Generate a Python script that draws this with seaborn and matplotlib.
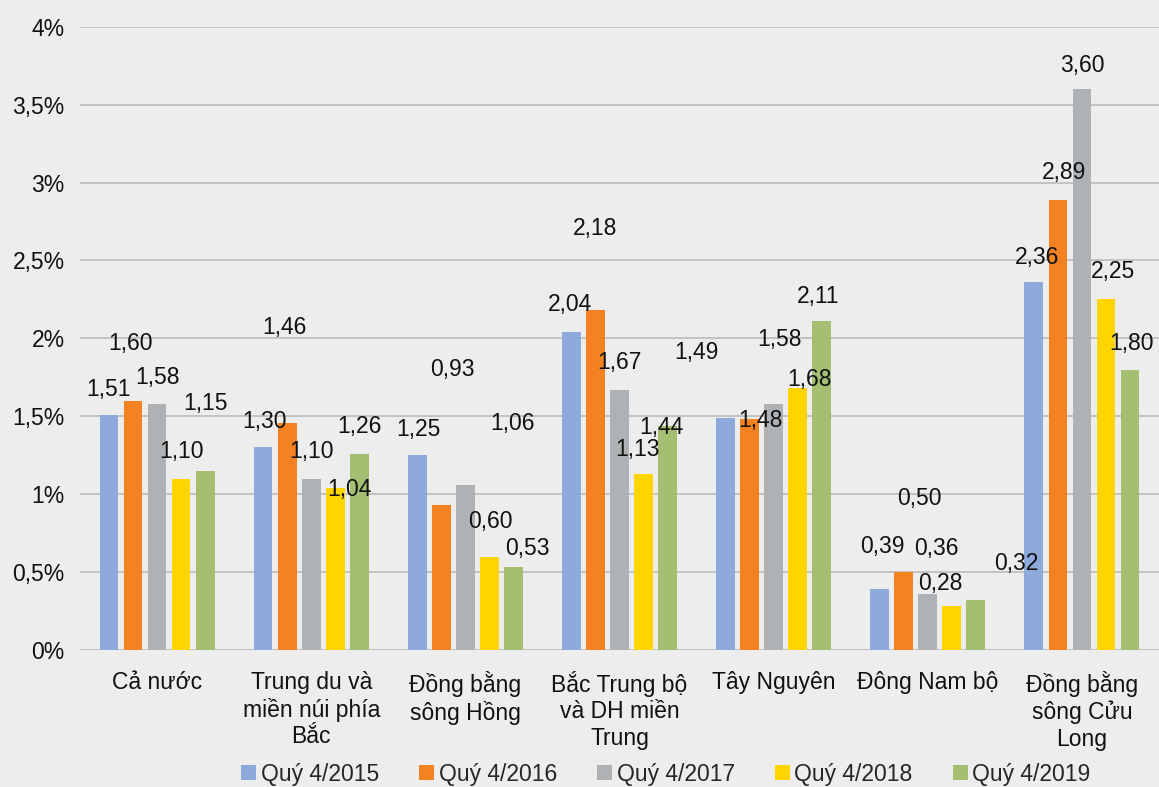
import pandas as pd
import matplotlib.pyplot as plt
import seaborn as sns

regions = [
    "Cả nước",
    "Trung du và\nmiền núi phía\nBắc",
    "Đồng bằng\nsông Hồng",
    "Bắc Trung bộ\nvà DH miền\nTrung",
    "Tây Nguyên",
    "Đông Nam bộ",
    "Đồng bằng\nsông Cửu\nLong",
]
series = ["Quý 4/2015", "Quý 4/2016", "Quý 4/2017", "Quý 4/2018", "Quý 4/2019"]
q4_2015 = [1.51, 1.30, 1.25, 2.04, 1.49, 0.39, 2.36]
q4_2016 = [1.60, 1.46, 0.93, 2.18, 1.48, 0.50, 2.89]
q4_2017 = [1.58, 1.10, 1.06, 1.67, 1.58, 0.36, 3.60]
q4_2018 = [1.10, 1.04, 0.60, 1.13, 1.68, 0.28, 2.25]
q4_2019 = [1.15, 1.26, 0.53, 1.44, 2.11, 0.32, 1.80]
yticks = [0, 0.5, 1, 1.5, 2, 2.5, 3, 3.5, 4]
ytick_labels = ["0%", "0,5%", "1%", "1,5%", "2%", "2,5%", "3%", "3,5%", "4%"]

colors = ["#8EAADB", "#F58220", "#AFB2B5", "#FFD500", "#A4BF72"]
# label nudges (pixels) per series, per region, as placed in the source chart
nudge = [
    [(0, 25), (1, 26), (1, 26), (-1, 28), (-29, 65), (3, 43), (3, 25)],
    [(-2, 57), (-3, 95), (11, 136), (0, 82), (11, -1), (16, 74), (6, 27)],
    [(0, 26), (0, 27), (47, 61), (0, 27), (6, 64), (9, 45), (0, 24)],
    [(0, 27), (14, -1), (1, 35), (-6, 24), (12, 9), (-12, 23), (7, 28)],
    [(0, 67), (0, 27), (14, 19), (-6, -2), (-4, 25), (40, 37), (1, 26)],
]

values = [q4_2015, q4_2016, q4_2017, q4_2018, q4_2019]
df = pd.DataFrame({
    "region": regions * len(series),
    "period": [s for s in series for _ in regions],
    "value": [v for vals in values for v in vals],
})

sns.set_theme(style="white")
plt.rcParams["font.family"] = ["Liberation Sans", "DejaVu Sans"]
bg = "#EDEDED"
fs = 16.5

fig = plt.figure(figsize=(11.59, 7.87), dpi=100, facecolor=bg)
ax = fig.add_axes([0.069, 0.174, 0.931, 0.792])
ax.set_facecolor(bg)

sns.barplot(data=df, x="region", y="value", hue="period", palette=colors,
            width=0.78, gap=0.22, saturation=1, errorbar=None, ax=ax,
            linewidth=0, zorder=3)

for j, cont in enumerate(ax.containers):
    for i, bar in enumerate(cont):
        dx, dy = nudge[j][i]
        ax.annotate(f"{bar.get_height():.2f}".replace(".", ","),
                    (bar.get_x() + bar.get_width() / 2, bar.get_height()),
                    xytext=(dx, dy), textcoords="offset pixels",
                    ha="center", va="center", fontsize=fs, color="#111111",
                    zorder=5)

ax.set_ylim(0, 4)
ax.set_xlim(-0.5, len(regions) - 0.5)
ax.set_yticks(yticks)
ax.set_yticklabels(ytick_labels, fontsize=fs, color="#111111")
ax.tick_params(axis="x", labelsize=fs, colors="#111111", length=0, pad=15)
ax.tick_params(axis="y", length=0, pad=11)
ax.yaxis.grid(True, color="#BFBFBF", linewidth=1.3, zorder=0)
ax.set_axisbelow(True)
for s in ax.spines.values():
    s.set_visible(False)
ax.set_xlabel("")
ax.set_ylabel("")

ax.legend(loc="center", bbox_to_anchor=(0.543, -0.199), ncol=5, frameon=False,
          fontsize=fs, handlelength=0.65, handleheight=0.65, handletextpad=0.2,
          columnspacing=1.75, borderaxespad=0)

fig.savefig("out.png", dpi=100, facecolor=bg)
